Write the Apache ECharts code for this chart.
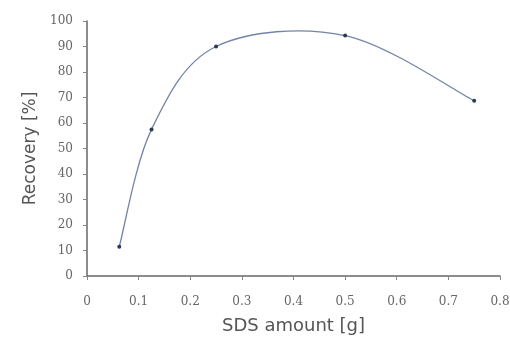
<!DOCTYPE html>
<html><head><meta charset="utf-8">
<script src="https://cdn.jsdelivr.net/npm/echarts@6/dist/echarts.min.js"></script>
<style>html,body{margin:0;padding:0;background:#fff}#c{width:510px;height:337px}</style>
</head><body><div id="c"></div>
<script>
var sdsAmount = [0.0625, 0.125, 0.25, 0.5, 0.75];
var recovery = [11.5, 57.5, 90, 94.3, 68.7];
var xTicks = [0, 0.1, 0.2, 0.3, 0.4, 0.5, 0.6, 0.7, 0.8];
var yTicks = [0, 10, 20, 30, 40, 50, 60, 70, 80, 90, 100];

var LINE = '#7384a8';
var chart = echarts.init(document.getElementById('c'));
chart.setOption({
  animation: false,
  backgroundColor: '#fff',
  grid: {left: 87, right: 10, top: 21, bottom: 61, outerBoundsMode: 'none', containLabel: false},
  xAxis: {
    type: 'value', min: xTicks[0], max: xTicks[xTicks.length-1], interval: 0.1,
    name: 'SDS amount [g]', nameLocation: 'middle', nameGap: 41,
    nameTextStyle: {fontFamily: 'DejaVu Sans', fontSize: 18, color: '#555'},
    axisLine: {show: true, lineStyle: {color: '#666', width: 1.5}},
    axisTick: {show: true, length: 4, lineStyle: {color: '#888'}},
    splitLine: {show: false},
    axisLabel: {fontFamily: 'DejaVu Serif', fontSize: 12, color: '#666', margin: 20,
      formatter: function(v){ return String(Math.round(v*10)/10); }}
  },
  yAxis: {
    type: 'value', min: yTicks[0], max: yTicks[yTicks.length-1], interval: 10,
    name: 'Recovery [%]', nameLocation: 'middle', nameGap: 48,
    nameTextStyle: {fontFamily: 'DejaVu Sans', fontSize: 17, color: '#555'},
    axisLine: {show: true, lineStyle: {color: '#666', width: 1.5}},
    axisTick: {show: true, length: 4, lineStyle: {color: '#888'}},
    splitLine: {show: false},
    axisLabel: {fontFamily: 'DejaVu Serif', fontSize: 12, color: '#666', margin: 14}
  },
  series: [{
    type: 'custom',
    silent: true,
    z: 2,
    data: sdsAmount.slice(0, -1).map(function(x, i){ return [x, recovery[i]]; }),
    renderItem: function(params, api){
      var i = params.dataIndex, n = sdsAmount.length;
      function pt(j){ j = Math.max(0, Math.min(n-1, j)); return api.coord([sdsAmount[j], recovery[j]]); }
      var p0 = pt(i-1), p1 = pt(i), p2 = pt(i+1), p3 = pt(i+2);
      return {
        type: 'bezierCurve',
        shape: {
          x1: p1[0], y1: p1[1], x2: p2[0], y2: p2[1],
          cpx1: p1[0] + (p2[0]-p0[0])/6, cpy1: p1[1] + (p2[1]-p0[1])/6,
          cpx2: p2[0] - (p3[0]-p1[0])/6, cpy2: p2[1] - (p3[1]-p1[1])/6
        },
        style: {stroke: LINE, fill: null, lineWidth: 1.3}
      };
    }
  }, {
    type: 'line',
    z: 3,
    data: sdsAmount.map(function(x, i){ return [x, recovery[i]]; }),
    symbol: 'circle', symbolSize: 4,
    itemStyle: {color: '#2e3855'},
    lineStyle: {width: 0, opacity: 0}
  }]
});
</script></body></html>
